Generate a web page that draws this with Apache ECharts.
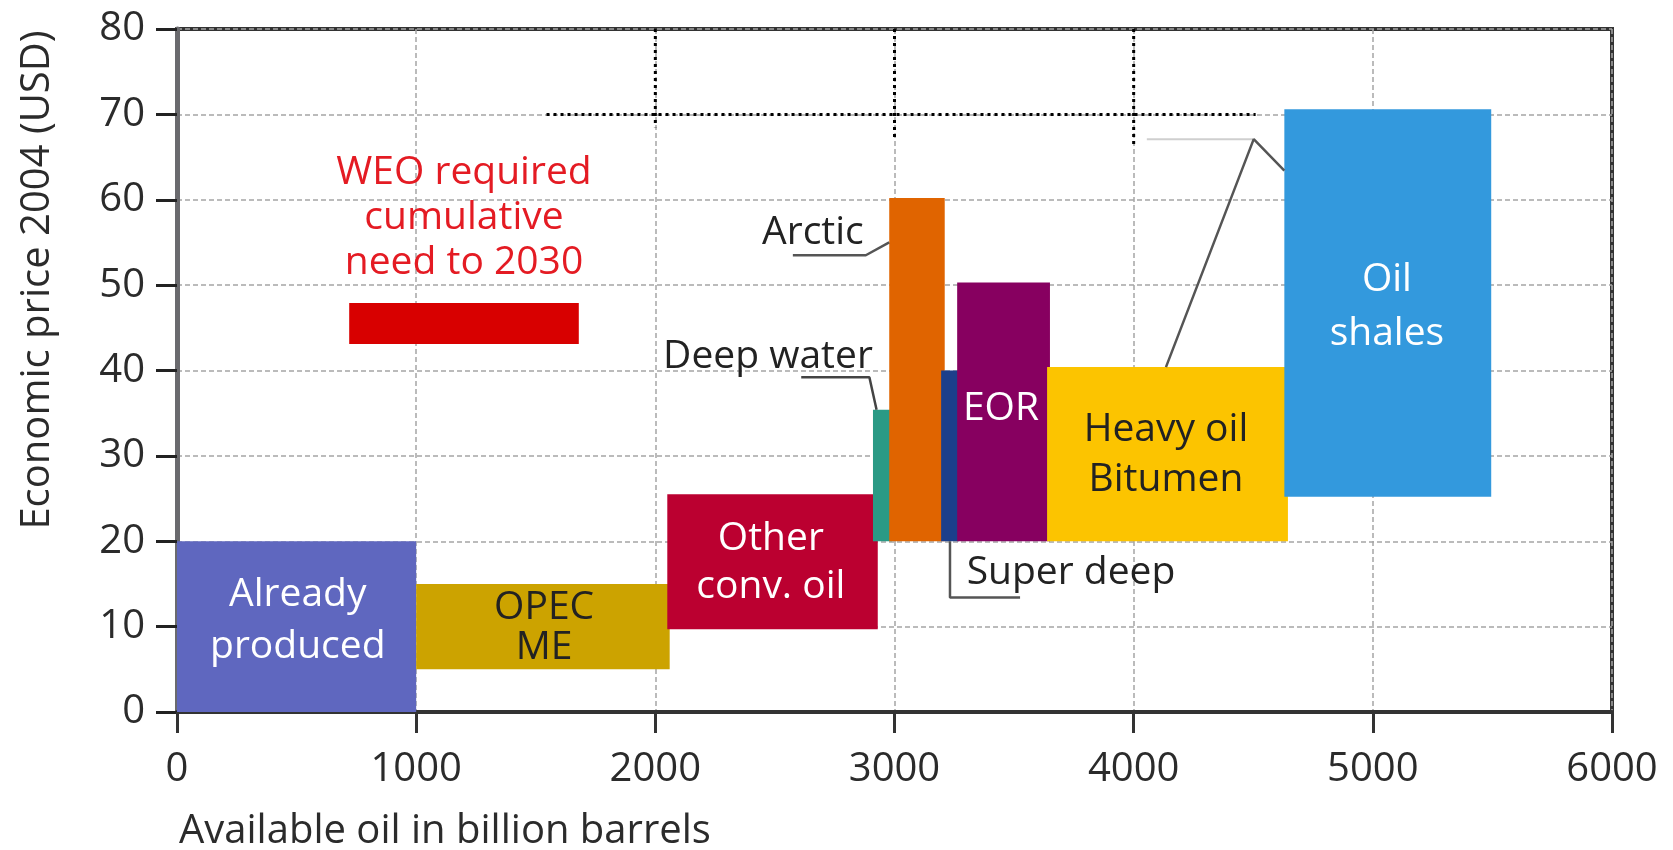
<!DOCTYPE html>
<html><head><meta charset="utf-8">
<script src="https://cdn.jsdelivr.net/npm/echarts@6/dist/echarts.min.js"></script>
<style>html,body{margin:0;padding:0;background:#fff}#c{width:1673px;height:850px}</style>
</head><body><div id="c"></div>
<script>
// ---- data ----
const categories = ['Already produced','OPEC ME','Other conv. oil','Deep water','Arctic','Super deep','EOR','Heavy oil Bitumen','Oil shales','WEO required cumulative need to 2030'];
const volumeStart = [0, 1000, 2050, 2910, 2978, 3195, 3262, 3638, 4630, 720];
const volumeEnd   = [1000, 2060, 2930, 2990, 3210, 3270, 3650, 4645, 5495, 1680];
const priceLow    = [0, 5, 9.7, 20, 20, 20, 20, 20, 25.2, 43.1];
const priceHigh   = [20, 15, 25.5, 35.4, 60.2, 40, 50.3, 40.4, 70.6, 47.9];
const xTicks = [0, 1000, 2000, 3000, 4000, 5000, 6000];
const yTicks = [0, 10, 20, 30, 40, 50, 60, 70, 80];
const labelTexts = ['Already\nproduced','OPEC\nME','Other\nconv. oil','EOR','Heavy oil\nBitumen','Oil\nshales','WEO required\ncumulative\nneed to 2030','Arctic','Deep water','Super deep'];
const labelX = [505, 1535, 2483, 3445, 4135, 5059, 1200, 2659, 2471, 3738];
const labelY = [10.65, 9.85, 17.45, 35.5, 30.1, 47.45, 57.9, 56.1, 41.6, 16.3];
// leader lines (data coordinates)
const leaderArctic = [[2575, 53.5], [2880, 53.5], [2978, 55]];
const leaderDeep = [[2610, 39.2], [2895, 39.2], [2925, 35.4]];
const leaderSuper = [[3232, 20], [3232, 13.4], [3525, 13.4]];
const leaderShale = [[4135, 40.4], [4502, 67.1], [4630, 63.4]];
const leaderShaleGuide = [[4055, 67.1], [4500, 67.1]];
// dotted reference lines
const refPrice = [[1545, 70], [4510, 70]];
const ref2000 = [[2000, 80], [2000, 68.5]];
const ref3000 = [[3000, 80], [3000, 67]];
const ref4000 = [[4000, 80], [4000, 66.5]];

// ---- chart ----
const FONT = '"Open Sans", "DejaVu Sans", sans-serif';
const barColors = ['#5f67bf','#cca300','#bb0030','#2a9a85','#e06400','#1c3f8b','#870060','#fcc400','#3399dd','#d80000'];
const labelColors = ['#ffffff','#222222','#ffffff','#ffffff','#222222','#ffffff','#e41b23','#222222','#222222','#222222'];
const labelLH = [52, 40, 48, 44, 50, 54, 45, 44, 44, 44];

const rectData = categories.map((n, i) => ({name: n, value: [volumeStart[i], volumeEnd[i], priceLow[i], priceHigh[i]]}));
const textData = labelTexts.map((t, i) => ({name: t, value: [labelX[i], labelY[i]]}));

function lineSeries(pts, color, width, type) {
  return {type: 'line', data: pts, symbol: 'none', silent: true, z: 5,
    lineStyle: {color: color, width: width, type: type || 'solid'}, animation: false};
}

const chart = echarts.init(document.getElementById('c'));
chart.setOption({
  animation: false,
  grid: {left: 177, right: 61, top: 29, bottom: 138, show: true, borderColor: '#333', borderWidth: 4, backgroundColor: 'transparent'},
  xAxis: {
    type: 'value', min: xTicks[0], max: xTicks[xTicks.length - 1], interval: 1000,
    axisLine: {show: true, lineStyle: {color: '#333', width: 4}},
    axisTick: {show: true, length: 21, lineStyle: {color: '#333', width: 3}},
    axisLabel: {fontFamily: FONT, fontSize: 40, color: '#2b2b2b', margin: 38, formatter: v => String(v)},
    splitLine: {show: true, lineStyle: {color: '#a5a5a5', width: 1.5, type: [5, 3]}}
  },
  yAxis: {
    type: 'value', min: yTicks[0], max: yTicks[yTicks.length - 1], interval: 10,
    axisLine: {show: true, lineStyle: {color: '#6a6a6e', width: 5}},
    axisTick: {show: true, length: 21, lineStyle: {color: '#222', width: 3}},
    axisLabel: {fontFamily: FONT, fontSize: 40, color: '#2b2b2b', margin: 32, formatter: v => String(v)},
    splitLine: {show: true, lineStyle: {color: '#a5a5a5', width: 1.5, type: [5, 3]}}
  },
  graphic: [
    {type: 'text', x: 38, y: 280, rotation: Math.PI / 2,
      style: {text: 'Economic price 2004 (USD)', font: '40px ' + FONT, fill: '#2b2b2b', align: 'center', verticalAlign: 'middle'}},
    {type: 'text', x: 179, y: 832,
      style: {text: 'Available oil in billion barrels', font: '40px ' + FONT, fill: '#2b2b2b', align: 'left', verticalAlign: 'middle'}}
  ],
  series: [
    {
      type: 'custom', z: 3, data: rectData, encode: {x: [0, 1], y: [2, 3]},
      renderItem: function (params, api) {
        const p0 = api.coord([api.value(0), api.value(3)]);
        const p1 = api.coord([api.value(1), api.value(2)]);
        return {type: 'rect', shape: {x: p0[0], y: p0[1], width: p1[0] - p0[0], height: p1[1] - p0[1]},
          style: {fill: barColors[params.dataIndex]}};
      }
    },
    lineSeries(refPrice, '#000', 3, [3, 4]),
    lineSeries(ref2000, '#000', 3, [3, 4]),
    lineSeries(ref3000, '#000', 3, [3, 4]),
    lineSeries(ref4000, '#000', 3, [3, 4]),
    lineSeries(leaderShaleGuide, '#cfcfcf', 2),
    lineSeries(leaderArctic, '#555', 2.5),
    lineSeries(leaderDeep, '#444', 2.5),
    lineSeries(leaderSuper, '#555', 2.5),
    lineSeries(leaderShale, '#555', 2.5),
    {
      type: 'custom', z: 10, data: textData, encode: {x: 0, y: 1},
      renderItem: function (params, api) {
        const p = api.coord([api.value(0), api.value(1)]);
        const i = params.dataIndex;
        return {type: 'text', x: p[0], y: p[1],
          style: {text: labelTexts[i], font: '39px ' + FONT, fill: labelColors[i], align: 'center', verticalAlign: 'middle', lineHeight: labelLH[i]}};
      }
    }
  ]
});
</script></body></html>
